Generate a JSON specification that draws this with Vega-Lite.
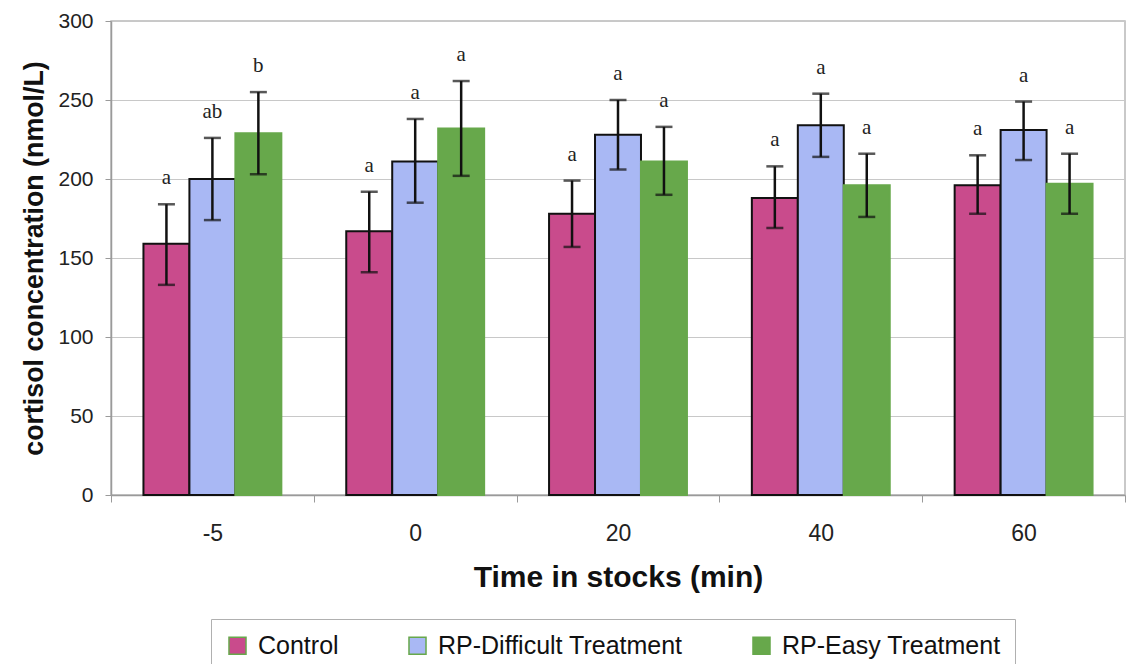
{
  "$schema": "https://vega.github.io/schema/vega-lite/v6.json",
  "width": 1014,
  "height": 474,
  "autosize": {"type": "none"},
  "padding": {"left": 111, "top": 21, "right": 7, "bottom": 169},
  "background": "white",
  "config": {
    "font": "Liberation Sans",
    "view": {"stroke": "#b8b8b8", "strokeWidth": 1.5},
    "axis": {"labelFont": "Liberation Sans", "titleFont": "Liberation Sans", "labelColor": "#222", "titleColor": "#111"}
  },
  "data": {
    "values": [
      {"time": "-5", "group": "Control", "mean": 159, "lo": 133, "hi": 184, "sig": "a"},
      {"time": "-5", "group": "RP-Difficult Treatment", "mean": 200, "lo": 174, "hi": 226, "sig": "ab"},
      {"time": "-5", "group": "RP-Easy Treatment", "mean": 229, "lo": 203, "hi": 255, "sig": "b"},
      {"time": "0", "group": "Control", "mean": 167, "lo": 141, "hi": 192, "sig": "a"},
      {"time": "0", "group": "RP-Difficult Treatment", "mean": 211, "lo": 185, "hi": 238, "sig": "a"},
      {"time": "0", "group": "RP-Easy Treatment", "mean": 232, "lo": 202, "hi": 262, "sig": "a"},
      {"time": "20", "group": "Control", "mean": 178, "lo": 157, "hi": 199, "sig": "a"},
      {"time": "20", "group": "RP-Difficult Treatment", "mean": 228, "lo": 206, "hi": 250, "sig": "a"},
      {"time": "20", "group": "RP-Easy Treatment", "mean": 211, "lo": 190, "hi": 233, "sig": "a"},
      {"time": "40", "group": "Control", "mean": 188, "lo": 169, "hi": 208, "sig": "a"},
      {"time": "40", "group": "RP-Difficult Treatment", "mean": 234, "lo": 214, "hi": 254, "sig": "a"},
      {"time": "40", "group": "RP-Easy Treatment", "mean": 196, "lo": 176, "hi": 216, "sig": "a"},
      {"time": "60", "group": "Control", "mean": 196, "lo": 178, "hi": 215, "sig": "a"},
      {"time": "60", "group": "RP-Difficult Treatment", "mean": 231, "lo": 212, "hi": 249, "sig": "a"},
      {"time": "60", "group": "RP-Easy Treatment", "mean": 197, "lo": 178, "hi": 216, "sig": "a"}
    ]
  },
  "encoding": {
    "x": {
      "field": "time",
      "type": "nominal",
      "sort": ["-5", "0", "20", "40", "60"],
      "scale": {"paddingInner": 0, "paddingOuter": 0},
      "axis": {
        "title": "Time in stocks (min)",
        "titleFontSize": 30,
        "titleFontWeight": "bold",
        "titlePadding": 17,
        "labelAngle": 0,
        "labelFontSize": 23,
        "labelPadding": 20,
        "tickBand": "extent",
        "tickSize": 7,
        "tickColor": "#9a9a9a",
        "domainColor": "#9a9a9a",
        "domainWidth": 1.5
      }
    },
    "xOffset": {
      "field": "group",
      "type": "nominal",
      "sort": ["Control", "RP-Difficult Treatment", "RP-Easy Treatment"],
      "scale": {"paddingInner": 0, "paddingOuter": 0.706}
    }
  },
  "layer": [
    {
      "mark": {"type": "bar", "strokeWidth": 2},
      "encoding": {
        "y": {
          "field": "mean",
          "type": "quantitative",
          "scale": {"domain": [0, 300], "nice": false},
          "axis": {
            "title": "cortisol concentration (nmol/L)",
            "titleFontSize": 26.8,
            "titleFontWeight": "bold",
            "titlePadding": 9,
            "values": [0, 50, 100, 150, 200, 250, 300],
            "labelFontSize": 21,
            "labelPadding": 12,
            "tickSize": 6,
            "tickColor": "#9a9a9a",
            "domainColor": "#9a9a9a",
            "domainWidth": 1.5,
            "gridColor": "#c8c8c8",
            "gridWidth": 1.2
          }
        },
        "color": {
          "field": "group",
          "type": "nominal",
          "sort": ["Control", "RP-Difficult Treatment", "RP-Easy Treatment"],
          "scale": {"range": ["#c94b8c", "#a9b8f4", "#67a84b"]},
          "legend": {
            "title": null,
            "orient": "none",
            "legendX": 100,
            "legendY": 598,
            "direction": "horizontal",
            "symbolType": "square",
            "symbolSize": 290,
            "symbolStrokeWidth": 1.5,
            "symbolOpacity": 1,
            "labelFontSize": 25,
            "labelFont": "Liberation Sans",
            "labelColor": "#111",
            "labelLimit": 400,
            "labelOffset": 8,
            "columnPadding": 66,
            "padding": 14,
            "strokeColor": "#b0b0b0",
            "encode": {
              "symbols": {
                "update": {
                  "stroke": {"signal": "datum.value === 'RP-Easy Treatment' ? '#67a84b' : '#111111'"}
                }
              }
            }
          }
        },
        "stroke": {
          "condition": {"test": "datum.group !== 'RP-Easy Treatment'", "value": "#111111"},
          "value": "#67a84b"
        }
      }
    },
    {
      "mark": {"type": "rule", "color": "#111", "strokeWidth": 2.5},
      "encoding": {
        "y": {"field": "lo", "type": "quantitative"},
        "y2": {"field": "hi"}
      }
    },
    {
      "mark": {"type": "tick", "color": "#111", "size": 17, "thickness": 2.5},
      "encoding": {"y": {"field": "hi", "type": "quantitative"}}
    },
    {
      "mark": {"type": "tick", "color": "#111", "size": 17, "thickness": 2.5},
      "encoding": {"y": {"field": "lo", "type": "quantitative"}}
    },
    {
      "mark": {"type": "text", "font": "Liberation Serif", "fontSize": 21, "color": "#222", "baseline": "alphabetic", "dy": -20},
      "encoding": {
        "y": {"field": "hi", "type": "quantitative"},
        "text": {"field": "sig"}
      }
    }
  ]
}
